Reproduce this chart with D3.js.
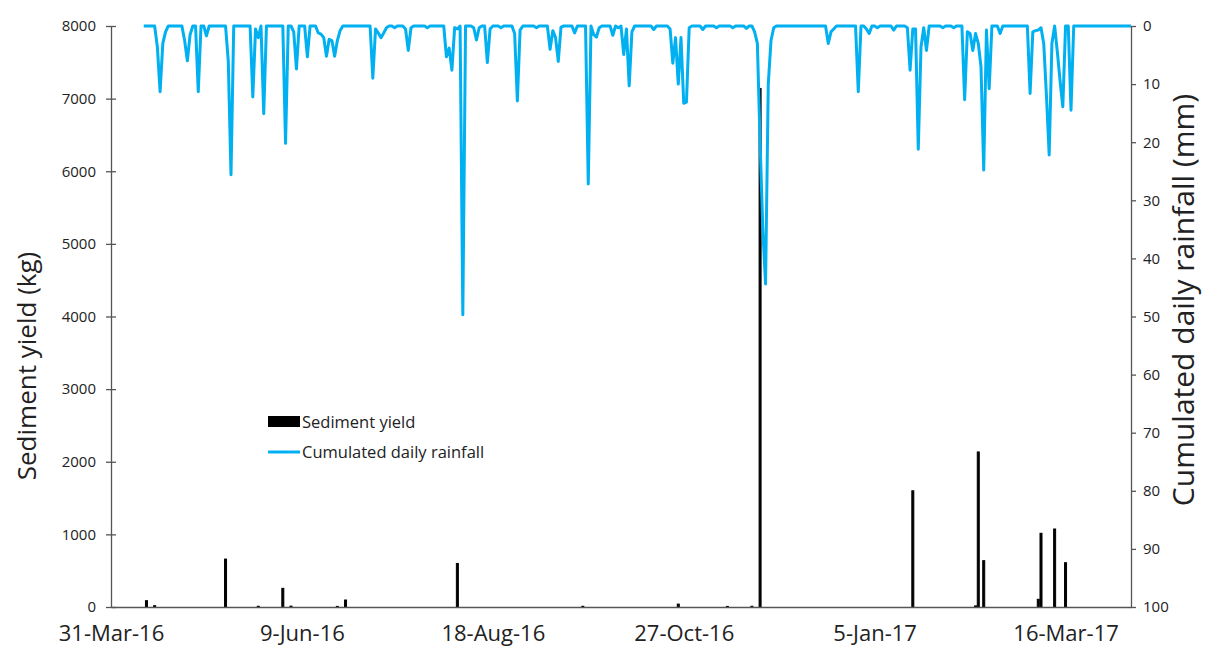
<!DOCTYPE html>
<html>
<head>
<meta charset="utf-8">
<script src="https://cdn.jsdelivr.net/npm/d3@7"></script>
<style>
  html, body { margin: 0; padding: 0; background: #fff; }
  svg { display: block; }
  text { font-family: "Open Sans", sans-serif; fill: #222; }
</style>
</head>
<body>
<svg id="chart" width="1206" height="646"></svg>
<script>
// ---------------- data ----------------
const axisStart = "2016-03-31";
const axisEnd = "2017-04-09";

const tickDates = ["2016-03-31", "2016-06-09", "2016-08-18", "2016-10-27", "2017-01-05", "2017-03-16"];
const tickLabels = ["31-Mar-16", "9-Jun-16", "18-Aug-16", "27-Oct-16", "5-Jan-17", "16-Mar-17"];

const leftTicks = [0, 1000, 2000, 3000, 4000, 5000, 6000, 7000, 8000];
const rightTicks = [0, 10, 20, 30, 40, 50, 60, 70, 80, 90, 100];

// Sediment yield (kg)
const sedimentDates = ["2016-04-13", "2016-04-16", "2016-05-12", "2016-05-24", "2016-06-02", "2016-06-05",
  "2016-06-22", "2016-06-25", "2016-08-05", "2016-09-20", "2016-10-25", "2016-11-12", "2016-11-21",
  "2016-11-24", "2017-01-19", "2017-02-11", "2017-02-12", "2017-02-14", "2017-03-06", "2017-03-07",
  "2017-03-12", "2017-03-16"];
const sedimentKg = [87, 18, 660, 10, 257, 12, 8, 96, 600, 10, 40, 8, 10, 7140, 1600, 15, 2135, 638,
  106, 1015, 1074, 610];

// Cumulated daily rainfall (mm): record period, and the days with rain (all other days 0 mm)
const rainFirstDay = "2016-04-12";
const rainLastDay = "2017-04-09";
const rainDates = [
  "2016-04-17", "2016-04-18", "2016-04-19", "2016-04-20", "2016-04-27", "2016-04-28", "2016-04-29",
  "2016-05-02", "2016-05-05", "2016-05-13", "2016-05-14", "2016-05-22", "2016-05-23", "2016-05-24",
  "2016-05-26", "2016-06-03", "2016-06-06", "2016-06-07", "2016-06-11", "2016-06-15", "2016-06-16",
  "2016-06-17", "2016-06-18", "2016-06-19", "2016-06-20", "2016-06-21", "2016-06-22", "2016-06-23",
  "2016-07-05", "2016-07-06", "2016-07-07", "2016-07-08", "2016-07-09", "2016-07-10", "2016-07-13",
  "2016-07-17", "2016-07-18", "2016-07-19", "2016-07-25",
  "2016-08-01", "2016-08-02", "2016-08-03", "2016-08-04", "2016-08-05", "2016-08-07", "2016-08-11",
  "2016-08-12", "2016-08-13", "2016-08-16", "2016-08-17", "2016-08-21", "2016-08-26", "2016-08-27",
  "2016-08-28", "2016-09-03", "2016-09-08", "2016-09-09", "2016-09-10", "2016-09-11", "2016-09-12",
  "2016-09-17", "2016-09-22", "2016-09-24", "2016-09-25", "2016-09-26",
  "2016-10-01", "2016-10-03", "2016-10-05", "2016-10-06", "2016-10-07", "2016-10-08", "2016-10-16",
  "2016-10-22", "2016-10-23", "2016-10-24", "2016-10-25", "2016-10-26", "2016-10-27", "2016-10-28",
  "2016-10-29", "2016-11-03", "2016-11-08", "2016-11-14", "2016-11-19", "2016-11-22", "2016-11-23",
  "2016-11-24", "2016-11-25", "2016-11-26", "2016-11-27", "2016-11-28", "2016-11-29",
  "2016-12-19", "2016-12-20", "2016-12-21", "2016-12-30",
  "2017-01-02", "2017-01-03", "2017-01-06", "2017-01-12", "2017-01-17", "2017-01-18", "2017-01-19",
  "2017-01-20", "2017-01-21", "2017-01-22", "2017-01-23", "2017-01-24", "2017-01-30",
  "2017-02-03", "2017-02-07", "2017-02-08", "2017-02-09", "2017-02-10", "2017-02-11", "2017-02-12",
  "2017-02-13", "2017-02-14", "2017-02-15", "2017-02-16", "2017-02-20",
  "2017-03-03", "2017-03-04", "2017-03-05", "2017-03-06", "2017-03-07", "2017-03-08", "2017-03-09",
  "2017-03-10", "2017-03-11", "2017-03-13", "2017-03-14", "2017-03-15", "2017-03-18"];
const rainMm = [
  3.6, 11.3, 3, 1, 2.5, 6, 1.5,
  11.3, 1.7, 6, 25.6, 12.2, 0.5, 2,
  15.1, 20.2, 1, 7.4, 5.3, 1.2, 1.4,
  2, 5.2, 2.3, 2.5, 5.2, 2.5, 0.8,
  9, 0.5, 1.2, 2, 1.2, 0.3, 0.3,
  0.5, 4.2, 0.3, 0.3,
  5.3, 3.8, 7.6, 0.3, 0.5, 49.7, 0.3,
  2.4, 0.3, 6.3, 0.5, 0.3, 1.3, 12.9,
  0.7, 0.3, 4, 0.8, 2, 6.1, 0.2,
  1.2, 27.2, 1.5, 1.9, 0.3,
  1.6, 0.3, 4.9, 0.5, 10.3, 1, 0.6,
  0.5, 6.4, 2, 10, 2, 13.3, 13.1,
  0.3, 0.6, 0.3, 0.3, 0.4, 1, 3,
  20, 35, 44.4, 10, 2.5, 0.3,
  3, 1, 0.5, 11.3,
  0.5, 1.3, 0.3, 0.7, 0.3, 7.6, 0.5,
  0.5, 21.2, 3.6, 0.3, 4.2, 0.3,
  0.3, 12.7, 1, 1.3, 4.2, 1.3, 3,
  7, 24.8, 0.7, 10.8, 1.3,
  11.6, 1, 0.8, 0.7, 0.3, 3, 12,
  22.2, 3, 4.5, 9.5, 13.9, 14.5];

// ---------------- build ----------------
const parse = d3.utcParse("%Y-%m-%d");
const rainLookup = new Map(rainDates.map((d, i) => [d, rainMm[i]]));
const fmt = d3.utcFormat("%Y-%m-%d");
const rainSeries = d3.utcDay.range(parse(rainFirstDay), d3.utcDay.offset(parse(rainLastDay), 1))
  .map(d => ({ date: d, mm: rainLookup.has(fmt(d)) ? rainLookup.get(fmt(d)) : 0 }));
const sediment = sedimentDates.map((d, i) => ({ date: parse(d), kg: sedimentKg[i] }));

const svg = d3.select("#chart");
const L = 111, R = 1131, T = 26, B = 607;

const x = d3.scaleUtc().domain([parse(axisStart), parse(axisEnd)]).range([L, R]);
const yL = d3.scaleLinear().domain([0, 8000]).range([B, T]);
const yR = d3.scaleLinear().domain([0, 100]).range([T, B]);

const axisColor = "#555";

// bars
svg.append("g").selectAll("rect").data(sediment).join("rect")
  .attr("x", d => x(d.date) - 1)
  .attr("width", 2)
  .attr("y", d => yL(d.kg))
  .attr("height", d => B - yL(d.kg))
  .attr("fill", "#000")
  .attr("stroke", "#000")
  .attr("stroke-width", 1);

// axes
const gL = svg.append("g").attr("transform", `translate(${L},0)`)
  .call(d3.axisLeft(yL).tickValues(leftTicks).tickFormat(d3.format("d")).tickSizeInner(5).tickSizeOuter(0).tickPadding(10));
gL.selectAll(".tick line").attr("x1", 5);
gL.selectAll(".tick text").attr("font-size", 15).attr("font-family", "Open Sans").attr("fill", "#222");
gL.selectAll("line, path").attr("stroke", axisColor).attr("stroke-width", 1.3);

const gR = svg.append("g").attr("transform", `translate(${R},0)`)
  .call(d3.axisRight(yR).tickValues(rightTicks).tickFormat(d3.format("d")).tickSizeInner(5).tickSizeOuter(0).tickPadding(7));
gR.selectAll(".tick text").attr("font-size", 15).attr("font-family", "Open Sans").attr("fill", "#222");
gR.selectAll("line, path").attr("stroke", axisColor).attr("stroke-width", 1.3);

const gB = svg.append("g").attr("transform", `translate(0,${B})`)
  .call(d3.axisBottom(x).tickValues(tickDates.map(parse)).tickFormat((d, i) => tickLabels[i]).tickSize(0).tickSizeOuter(0));
gB.selectAll(".tick text").attr("font-size", 22).attr("font-family", "Open Sans").attr("fill", "#222")
  .attr("y", 34).attr("dy", 0);
gB.selectAll("line, path").attr("stroke", axisColor).attr("stroke-width", 1.3);

// rainfall line
svg.append("path").datum(rainSeries)
  .attr("fill", "none")
  .attr("stroke", "#00B0F0")
  .attr("stroke-width", 3)
  .attr("stroke-linejoin", "round")
  .attr("d", d3.line().x(d => x(d.date)).y(d => yR(d.mm)));

// axis titles
svg.append("text").attr("transform", "translate(36,366) rotate(-90)")
  .attr("text-anchor", "middle").attr("font-size", 26).text("Sediment yield (kg)");
svg.append("text").attr("transform", "translate(1194,300) rotate(-90)")
  .attr("text-anchor", "middle").attr("font-size", 30).text("Cumulated daily rainfall (mm)");

// legend
const lg = svg.append("g");
lg.append("rect").attr("x", 268).attr("y", 416).attr("width", 32).attr("height", 11).attr("fill", "#000");
lg.append("text").attr("x", 302).attr("y", 427.5).attr("font-size", 16.5).text("Sediment yield");
lg.append("line").attr("x1", 268).attr("x2", 300).attr("y1", 452).attr("y2", 452)
  .attr("stroke", "#00B0F0").attr("stroke-width", 3);
lg.append("text").attr("x", 302).attr("y", 457.5).attr("font-size", 16.5).text("Cumulated daily rainfall");
</script>
</body>
</html>
